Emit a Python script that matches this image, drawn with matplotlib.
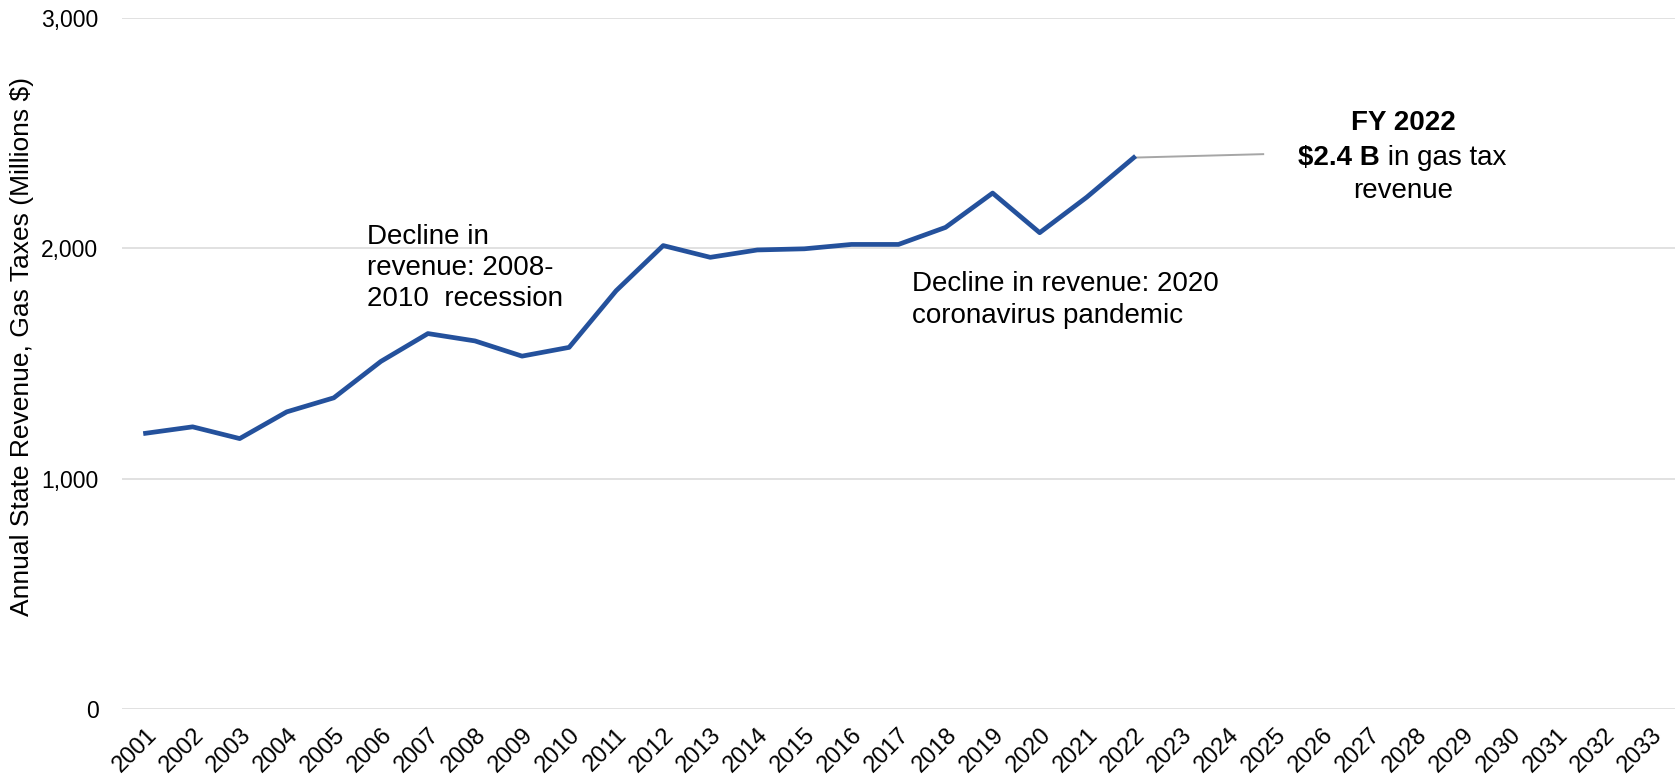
import matplotlib
matplotlib.use('Agg')
import matplotlib.pyplot as plt
from matplotlib.ticker import FuncFormatter

years = [str(y) for y in range(2001, 2034)]
revenue = [1197, 1225, 1174, 1290, 1351, 1509, 1630, 1598, 1532, 1570, 1816,
           2012, 1961, 1993, 1998, 2017, 2017, 2091, 2240, 2068, 2222, 2394]

plt.rcParams['font.family'] = ['Liberation Sans', 'DejaVu Sans']

fig = plt.figure(figsize=(16.81, 7.84), dpi=100)
ax = fig.add_axes([0.0726, 0.0957, 0.9238, 0.8813])

x = list(range(len(revenue)))
ax.plot(x, revenue, color='#24519c', lw=3.4, zorder=3)

ax.set_xlim(-0.5, len(years) - 0.5)
ax.set_ylim(0, 3000)
ax.set_xticks(range(len(years)))
ax.set_xticklabels(years, rotation=45, ha='right', rotation_mode='anchor', fontsize=17)
ax.set_yticks([0, 1000, 2000, 3000])
ax.yaxis.set_major_formatter(FuncFormatter(lambda v, p: f'{int(v):,}'))
ax.tick_params(axis='y', labelsize=16.5, length=0, pad=17)
ax.tick_params(axis='x', length=0, pad=11)
ax.grid(axis='y', color='#d9d9d9', lw=1.1)
ax.set_axisbelow(True)
for s in ax.spines.values():
    s.set_visible(False)
ax.set_ylabel('Annual State Revenue, Gas Taxes (Millions $)', fontsize=19)
ax.yaxis.set_label_coords(-0.057, 0.524)

ax.text(4.7, 2105, 'Decline in\nrevenue: 2008-\n2010  recession', fontsize=20,
        va='top', ha='left', linespacing=1.24)
ax.text(16.29, 1900, 'Decline in revenue: 2020\ncoronavirus pandemic', fontsize=20,
        va='top', ha='left', linespacing=1.28)

# callout for FY 2022
last = len(revenue) - 1
ax.plot([last, 23.75], [revenue[-1], 2409], color='#a6a6a6', lw=1.4, zorder=2)
ax.text(26.72, 2514, 'FY 2022', fontsize=20, fontweight='bold', ha='center', va='baseline')
ax.text(26.23, 2362, '$2.4 B', fontsize=20, fontweight='bold', ha='right', va='baseline')
ax.text(26.23, 2362, ' in gas tax', fontsize=20, ha='left', va='baseline')
ax.text(26.72, 2218, 'revenue', fontsize=20, ha='center', va='baseline')

fig.savefig('out.png', dpi=100)
